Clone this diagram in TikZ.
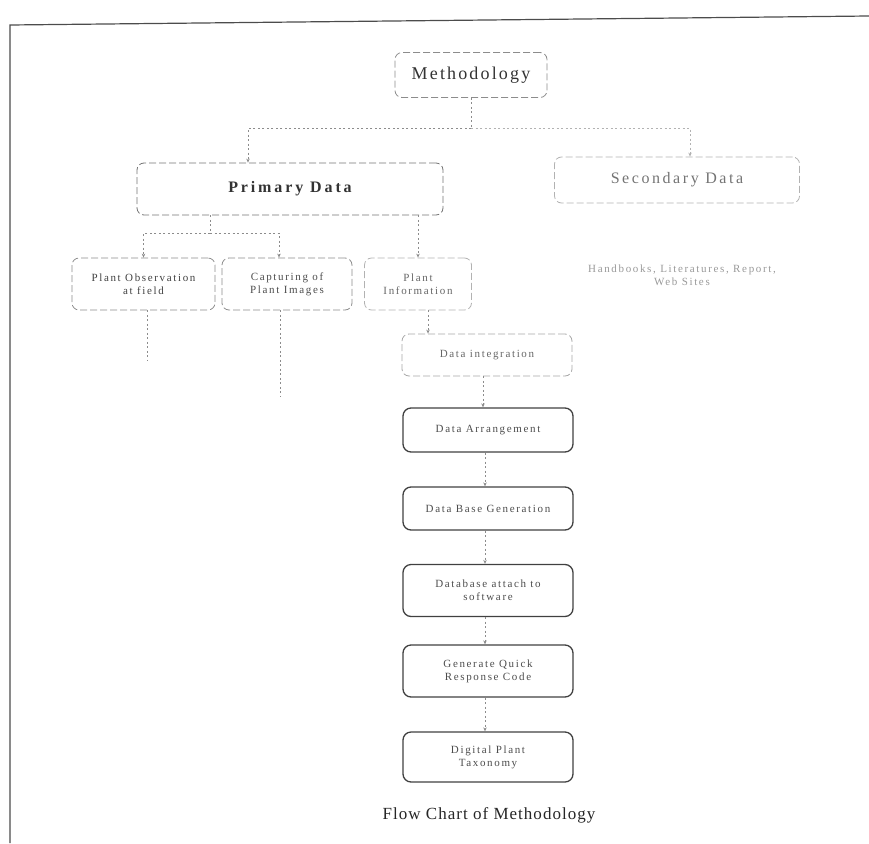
\documentclass[tikz,border=0pt]{standalone}
\usepackage{fontspec}
\setmainfont{Liberation Serif}
\usetikzlibrary{arrows.meta}
\tikzset{
  faintbox/.style={draw=black!45, dash pattern=on 7pt off 3pt, line width=0.8pt, rounded corners=7pt, align=center, inner sep=0pt},
  lowbox/.style={draw=black!75, line width=1.3pt, rounded corners=8pt, align=center, inner sep=0pt, minimum width=170pt, text=black!70},
  conn/.style={draw=black!45, line width=0.8pt, dash pattern=on 2pt off 2.5pt},
  tip/.style={-{Stealth[length=4pt,width=3.5pt]}},
  smalltext/.style={font=\fontsize{11}{13}\selectfont\addfontfeature{LetterSpace=15}},
}
\begin{document}
\begin{tikzpicture}[x=1pt,y=-1pt]
\useasboundingbox (0,0) rectangle (869,843);
% frame
\draw[line width=1.2pt, black!70] (10,843) -- (10,25) -- (869,16);

% top level
\node[faintbox, minimum width=152pt, minimum height=45pt,
      font=\fontsize{18}{20}\selectfont\addfontfeature{LetterSpace=12}, text=black!80] (meth) at (471,75) {Methodology};
\node[faintbox, draw=black!55, minimum width=306pt, minimum height=52pt,
      font=\fontsize{16}{18}\selectfont\bfseries\addfontfeature{LetterSpace=18}, text=black!80] (pd) at (290,189) {Primary Data};
\node[faintbox, draw=black!30, minimum width=245pt, minimum height=46pt,
      font=\fontsize{16}{18}\selectfont\addfontfeature{LetterSpace=16}, text=black!55] (sd) at (677,180) {Secondary Data};
\node[smalltext, align=center, text=black!40] (sdt) at (682,275) {Handbooks, Literatures, Report,\\Web Sites};

% second level
\node[faintbox, minimum width=143pt, minimum height=52pt, smalltext, text=black!75] (obs) at (143.5,284) {Plant Observation\\at field};
\node[faintbox, minimum width=130pt, minimum height=52pt, smalltext, text=black!70] (cap) at (287,284) {Capturing of\\Plant Images};
\node[faintbox, draw=black!30, minimum width=107pt, minimum height=52pt, smalltext, text=black!60] (pinfo) at (418,284) {Plant\\Information};

% chain
\node[faintbox, draw=black!35, minimum width=170pt, minimum height=42pt, smalltext, text=black!60] (dint) at (487,355) {Data integration};
\node[lowbox, minimum height=44pt, smalltext] (darr) at (488,430) {Data Arrangement};
\node[lowbox, minimum height=43pt, smalltext] (dbg) at (488,508.5) {Data Base Generation};
\node[lowbox, minimum height=52pt, smalltext] (dbatt) at (488,590.5) {Database attach to\\software};
\node[lowbox, minimum height=52pt, smalltext] (qr) at (488,671) {Generate Quick\\Response Code};
\node[lowbox, minimum height=50pt, smalltext] (dpt) at (488,757) {Digital Plant\\Taxonomy};

\node[font=\fontsize{17}{19}\selectfont\addfontfeature{LetterSpace=6}, text=black!85] (cap2) at (489,815) {Flow Chart of Methodology};

% connectors
\coordinate (j1) at (471,128);
\coordinate (j2) at (210,233);
\draw[conn] (meth.south) -- (j1);
\draw[conn, tip] (j1) -| ([xshift=-42pt]pd.north);
\draw[conn, tip, draw=black!30] (j1) -| ([xshift=13pt]sd.north);
\draw[conn] ([xshift=-80pt]pd.south) -- (j2);
\draw[conn, tip] (j2) -| (obs.north);
\draw[conn, tip] (j2) -| ([xshift=-8pt]cap.north);
\draw[conn, tip] (pinfo.north |- pd.south) -- (pinfo.north);
\draw[conn, tip] ([xshift=10pt]pinfo.south) -- ([xshift=-59pt]dint.north);
\coordinate (e1) at (147,360);
\coordinate (e2) at (280,397);
\draw[conn] ([xshift=3.5pt]obs.south) -- (e1);
\draw[conn] ([xshift=-7pt]cap.south) -- (e2);
\draw[conn, tip] ([xshift=-4pt]dint.south) -- ([xshift=-5pt]darr.north);
\draw[conn, tip] ([xshift=-3pt]darr.south) -- ([xshift=-3pt]dbg.north);
\draw[conn, tip] ([xshift=-3pt]dbg.south) -- ([xshift=-3pt]dbatt.north);
\draw[conn, tip] ([xshift=-3pt]dbatt.south) -- ([xshift=-3pt]qr.north);
\draw[conn, tip] ([xshift=-3pt]qr.south) -- ([xshift=-3pt]dpt.north);
\end{tikzpicture}
\end{document}
